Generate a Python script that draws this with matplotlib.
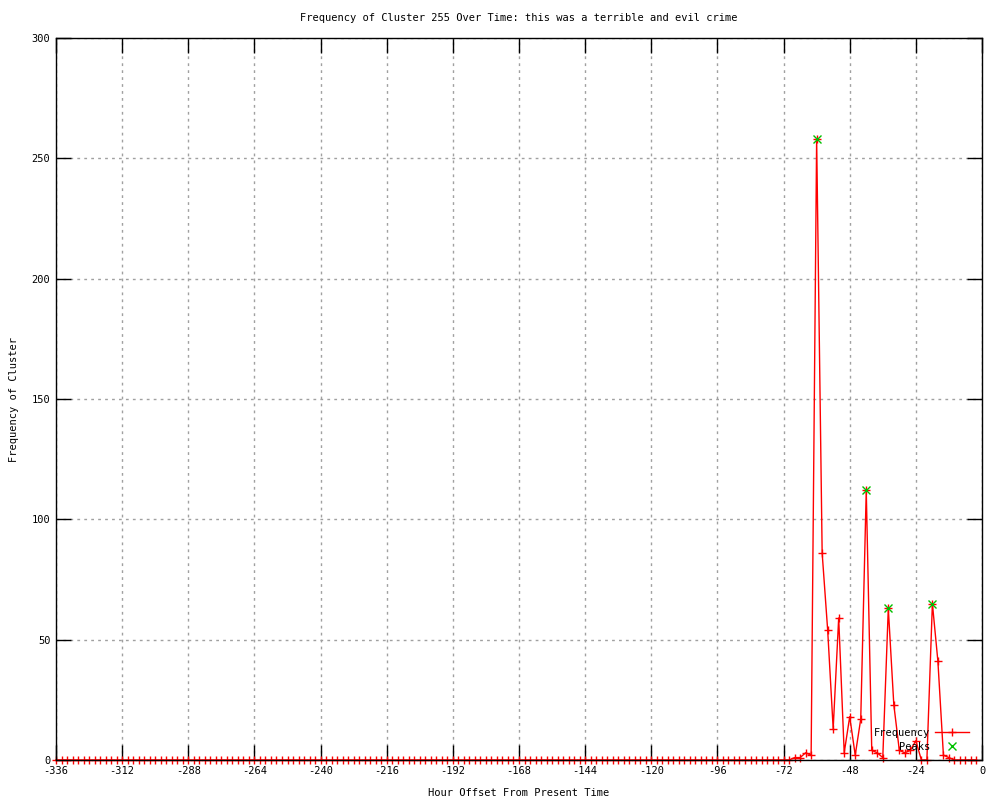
import matplotlib
matplotlib.use("Agg")
import matplotlib.pyplot as plt

plt.rcParams['font.family'] = ['DejaVu Sans Mono']
plt.rcParams['axes.unicode_minus'] = False

# Data: hour offsets (every 2 hours) and cluster frequency
hours = list(range(-336, 0, 2))
frequency = [
    0, 0, 0, 0, 0, 0, 0, 0, 0, 0, 0, 0,   # -336 .. -314
    0, 0, 0, 0, 0, 0, 0, 0, 0, 0, 0, 0,   # -312 .. -290
    0, 0, 0, 0, 0, 0, 0, 0, 0, 0, 0, 0,   # -288 .. -266
    0, 0, 0, 0, 0, 0, 0, 0, 0, 0, 0, 0,   # -264 .. -242
    0, 0, 0, 0, 0, 0, 0, 0, 0, 0, 0, 0,   # -240 .. -218
    0, 0, 0, 0, 0, 0, 0, 0, 0, 0, 0, 0,   # -216 .. -194
    0, 0, 0, 0, 0, 0, 0, 0, 0, 0, 0, 0,   # -192 .. -170
    0, 0, 0, 0, 0, 0, 0, 0, 0, 0, 0, 0,   # -168 .. -146
    0, 0, 0, 0, 0, 0, 0, 0, 0, 0, 0, 0,   # -144 .. -122
    0, 0, 0, 0, 0, 0, 0, 0, 0, 0, 0, 0,   # -120 .. -98
    0, 0, 0, 0, 0, 0, 0, 0, 0, 0, 0, 0,   # -96 .. -74
    0, 0, 1, 1, 3, 2, 258, 86, 54, 13, 59, 3,   # -72 .. -50
    18, 2, 17, 112, 4, 3, 1, 63, 23, 4, 3, 4,   # -48 .. -26
    8, 0, 0, 65, 41, 2, 1, 0, 0, 0, 0, 0,       # -24 .. -2
]
peak_hours = [-60, -42, -34, -18]
peak_values = [258, 112, 63, 65]

title = "Frequency of Cluster 255 Over Time: this was a terrible and evil crime"
xlabel = "Hour Offset From Present Time"
ylabel = "Frequency of Cluster"
xticks = list(range(-336, 1, 24))
yticks = list(range(0, 301, 50))

fig = plt.figure(figsize=(10, 8), dpi=100)
ax = fig.add_axes([0.056, 0.05, 0.926, 0.9025])

ax.plot(hours, frequency, color='#ff0000', linewidth=1.0, marker='+',
        markersize=6, markeredgewidth=1.0, label='Frequency', zorder=3,
        clip_on=False)
ax.plot(peak_hours, peak_values, linestyle='none', color='#00c000', marker='x',
        markersize=5.5, markeredgewidth=1.0, label='Peaks', zorder=4)

ax.set_xlim(-336, 0)
ax.set_ylim(0, 300)
ax.set_xticks(xticks)
ax.set_yticks(yticks)
ax.tick_params(direction='in', length=11, width=1, top=True, right=True,
               labelsize=7.5, pad=4, colors='black')
ax.grid(True, color='#a0a0a0', linestyle=(0, (2, 3)), linewidth=1.0)
for s in ax.spines.values():
    s.set_linewidth(1.0)
    s.set_color('black')
    s.set_zorder(5)

ax.set_title(title, fontsize=7.5, pad=12)
ax.set_xlabel(xlabel, fontsize=7.5, labelpad=9)
ax.set_ylabel(ylabel, fontsize=7.5, labelpad=9)

leg = ax.legend(loc='lower right', bbox_to_anchor=(0.99, 0.006),
                markerfirst=False, frameon=False, fontsize=7.5,
                handlelength=3.2, handletextpad=0.5, labelspacing=0.35,
                borderaxespad=0.0)

fig.savefig('out.png', dpi=100)
